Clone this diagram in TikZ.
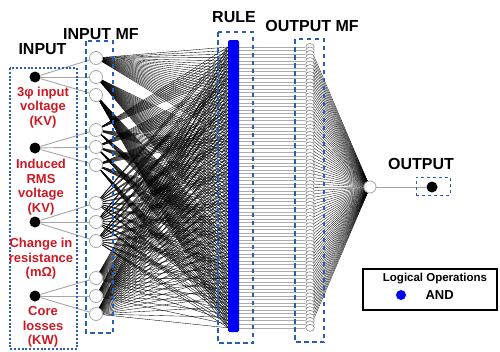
\documentclass[tikz,border=0pt]{standalone}
\usepackage{fontspec}
\setmainfont{Liberation Sans}
\usetikzlibrary{shapes.geometric,backgrounds}
\definecolor{boxblue}{RGB}{40,95,180}
\definecolor{labred}{RGB}{205,25,35}
\definecolor{rulblue}{RGB}{0,0,245}
\begin{document}
\begin{tikzpicture}[x=1pt,y=-1pt,
  inp/.style={circle,fill=black,inner sep=0pt,minimum size=11pt},
  mfnode/.style={circle,draw=gray!70,fill=white,line width=0.8pt,inner sep=0pt,minimum size=13pt},
  omfnode/.style={ellipse,draw=gray!95,fill=white,line width=0.6pt,inner sep=0pt,minimum width=8.5pt,minimum height=7pt},
  lbl/.style={font=\bfseries\fontsize{13}{14.5}\selectfont,text=labred,align=center},
  ttl/.style={font=\bfseries\fontsize{16}{18}\selectfont},
  boxdot/.style={draw=boxblue,line width=2.2pt,dash pattern=on 2pt off 1.8pt},
  boxdash/.style={draw=boxblue,line width=2pt,dash pattern=on 4.5pt off 3.5pt},
  inpline/.style={draw=gray!70,line width=0.9pt},
  connline/.style={draw=black,line width=0.35pt},
  hzline/.style={draw=gray!65,line width=0.6pt},
  outline/.style={draw=black,line width=0.3pt}]
\useasboundingbox (0,0) rectangle (500,351);

% input and input MF nodes
\foreach \k/\yi/\ya/\yb/\yc in {1/77/58/77/95, 2/148/130/147/165, 3/222/203/222/241, 4/296/278/296/314}{
  \node[inp] (in-\k) at (35,\yi) {};
  \node[mfnode] (mf-\k-0) at (96,\ya) {};
  \node[mfnode] (mf-\k-1) at (96,\yb) {};
  \node[mfnode] (mf-\k-2) at (96,\yc) {};
}

% rule bar
\node[fill=rulblue,inner sep=0pt,minimum width=11pt,minimum height=292pt,rounded corners=1.5pt] (rulebar) at (233.5,186) {};

% rule coordinates and output MFs
\foreach \r in {0,...,80}{
  \coordinate (rl-\r) at (228,47+3.51*\r);
  \coordinate (rr-\r) at (239,47+3.51*\r);
  \node[omfnode] (om-\r) at (310,47+3.51*\r) {};
}

% output
\node[mfnode,minimum size=12pt] (out) at (370,187) {};
\node[inp,minimum size=11pt] (res) at (432,187) {};
\node[draw=boxblue,line width=0.6pt,dashed,minimum width=34pt,minimum height=18pt,inner sep=0pt] (resbox) at (433,186) {};

\begin{pgfonlayer}{background}
  \foreach \k in {1,...,4}{
    \foreach \m in {0,1,2}{ \draw[inpline] (in-\k) -- (mf-\k-\m); }
  }
  \foreach \a in {0,1,2}{
    \foreach \b in {0,1,2}{
      \foreach \c in {0,1,2}{
        \foreach \d in {0,1,2}{
          \pgfmathtruncatemacro\rr{27*\a+9*\b+3*\c+\d}
          \draw[connline] (mf-1-\a) -- (rl-\rr);
          \draw[connline] (mf-2-\b) -- (rl-\rr);
          \draw[connline] (mf-3-\c) -- (rl-\rr);
          \draw[connline] (mf-4-\d) -- (rl-\rr);
        }
      }
    }
  }
  \foreach \r in {0,...,80}{
    \draw[hzline] (rr-\r) -- (om-\r);
    \draw[outline] (om-\r) -- (out);
  }
  \draw[inpline] (out) -- (res);
\end{pgfonlayer}

% boxes
\draw[boxdot] (10,68) rectangle (77,349);
\draw[boxdash] (86,41) rectangle (113,333);
\draw[boxdash] (218,32) rectangle (253,343);
\draw[boxdash] (295,39) rectangle (324,342);

% titles
\node[ttl] (t-in) at (42.5,49) {INPUT};
\node[ttl] (t-inmf) at (101,34) {INPUT MF};
\node[ttl] (t-rule) at (234,17) {RULE};
\node[ttl] (t-outmf) at (312,26) {OUTPUT MF};
\node[ttl] (t-out) at (421,164) {OUTPUT};

% input labels
\node[lbl] (l1) at (43,107.5) {3φ input\\voltage\\(KV)};
\node[lbl] (l2) at (41,187) {Induced\\RMS\\voltage\\(KV)};
\node[lbl] (l3) at (41,259) {Change in\\resistance\\(mΩ)};
\node[lbl] (l4) at (43,327) {Core\\losses\\(KW)};

% legend
\node[draw=black,line width=1.2pt,minimum width=134pt,minimum height=41pt,inner sep=0pt] (leg) at (430,289.5) {};
\node[font=\bfseries\fontsize{11.5}{13}\selectfont] (legt) at (435,279) {Logical Operations};
\node[circle,fill=rulblue,inner sep=0pt,minimum size=10pt] (legdot) at (401,295) {};
\node[font=\bfseries\fontsize{13}{14}\selectfont,anchor=west] (legand) at (422,295) {AND};
\end{tikzpicture}
\end{document}
